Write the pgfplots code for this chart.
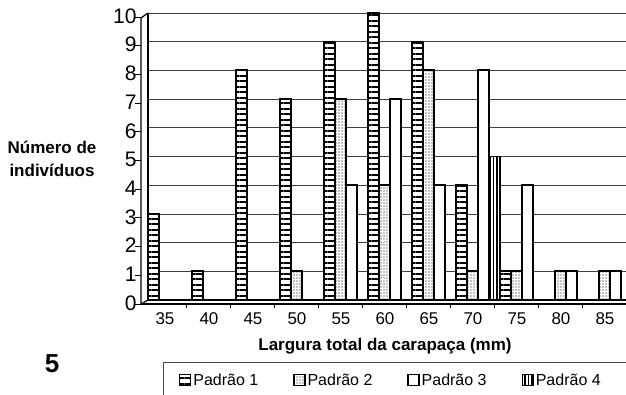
\documentclass[border=0pt]{standalone}
\usepackage{pgfplots}
\usepackage{pgfplotstable}
\pgfplotsset{compat=1.18}
\usepackage{fontspec}
\setmainfont{Liberation Sans}
\usetikzlibrary{patterns,patterns.meta}

\pgfplotstableread{
x P1 P2 P3 P4
0 3 0 0 0
1 1 0 0 0
2 8 0 0 0
3 7 1 0 0
4 9 7 4 0
5 10 4 7 0
6 9 8 4 0
7 4 1 8 5
8 1 1 4 0
9 0 1 1 0
10 0 1 1 0
}\datatab

\begin{document}
\begin{tikzpicture}[x=1pt,y=1pt]
\useasboundingbox (0,0) rectangle (626,-395);
\begin{axis}[
  at={(148pt,-300pt)}, anchor=south west,
  scale only axis, width=478pt, height=287pt,
  xmin=-0.5, xmax=10.364, ymin=0, ymax=10,
  ybar=0pt, bar width=11pt,
  xtick={0,...,10},
  xticklabels={35,40,45,50,55,60,65,70,75,80,85},
  ytick={0,...,10},
  axis x line*=bottom, axis y line*=left,
  axis line style={line width=1.2pt},
  x axis line style={line width=2pt},
  ymajorgrids, grid style={black!75, line width=0.8pt},
  major tick length=0pt,
  xticklabel style={font=\fontsize{17}{17}\selectfont, xshift=-5pt, yshift=-9pt},
  yticklabel style={font=\fontsize{21}{21}\selectfont, xshift=-8pt, yshift=-3pt},
  /pgf/number format/assume math mode=true,
  legend columns=4,
  legend style={at={(0.0314,-0.2168)}, anchor=north west, draw=none, fill=none,
    font=\fontsize{16}{16}\selectfont, inner xsep=16pt, inner ysep=9pt,
    /tikz/every even column/.append style={column sep=33pt}},
  legend image code/.code={\draw[#1, line width=1.2pt] (0pt,-5.5pt) rectangle (11pt,5.5pt);},
]
\addplot[draw=black, line width=2.2pt, fill=white,
  postaction={pattern={Lines[angle=0,distance=5.5pt,line width=2pt]}}]
  table[x=x,y=P1]{\datatab};
\addlegendentry{Padrão 1}
\addplot[draw=black, line width=1.8pt, fill=white,
  postaction={pattern={Dots[distance=3pt,radius=0.7pt]}}]
  table[x=x,y=P2]{\datatab};
\addlegendentry{Padrão 2}
\addplot[draw=black, line width=1.8pt, fill=white]
  table[x=x,y=P3]{\datatab};
\addlegendentry{Padrão 3}
\addplot[draw=black, line width=1.8pt, fill=white,
  postaction={pattern={Lines[angle=90,distance=3.5pt,line width=1.3pt]}}]
  table[x=x,y=P4]{\datatab};
\addlegendentry{Padrão 4}
\end{axis}
% legend frame (extends past the right edge, as in the scan)
\draw[black!70, line width=0.8pt] (163,-402) -- (163,-362) -- (640,-362);
% 3D wall / floor front edges
\draw[line width=1.2pt] (141,-304) -- (141,-18) -- (148,-13);
\draw[line width=1.2pt] (141,-304) -- (148,-300);
\draw[line width=1.2pt] (141,-304) -- (626,-304);
\foreach \i in {0,...,10} \draw[line width=0.9pt] (135,{-304+28.7*\i}) -- (141,{-304+28.7*\i});
\foreach \k in {1,...,10} \draw[line width=0.9pt] ({142+44*\k},-304) -- ({142+44*\k},-308);
% labels
\node[font=\bfseries\fontsize{17}{23}\selectfont, align=center] at (52,-159) {Número de\\indivíduos};
\node[font=\bfseries\fontsize{17}{17}\selectfont] at (385,-346) {Largura total da carapaça (mm)};
\node[font=\bfseries\fontsize{26}{26}\selectfont] at (52,-364) {5};
\end{tikzpicture}
\end{document}
